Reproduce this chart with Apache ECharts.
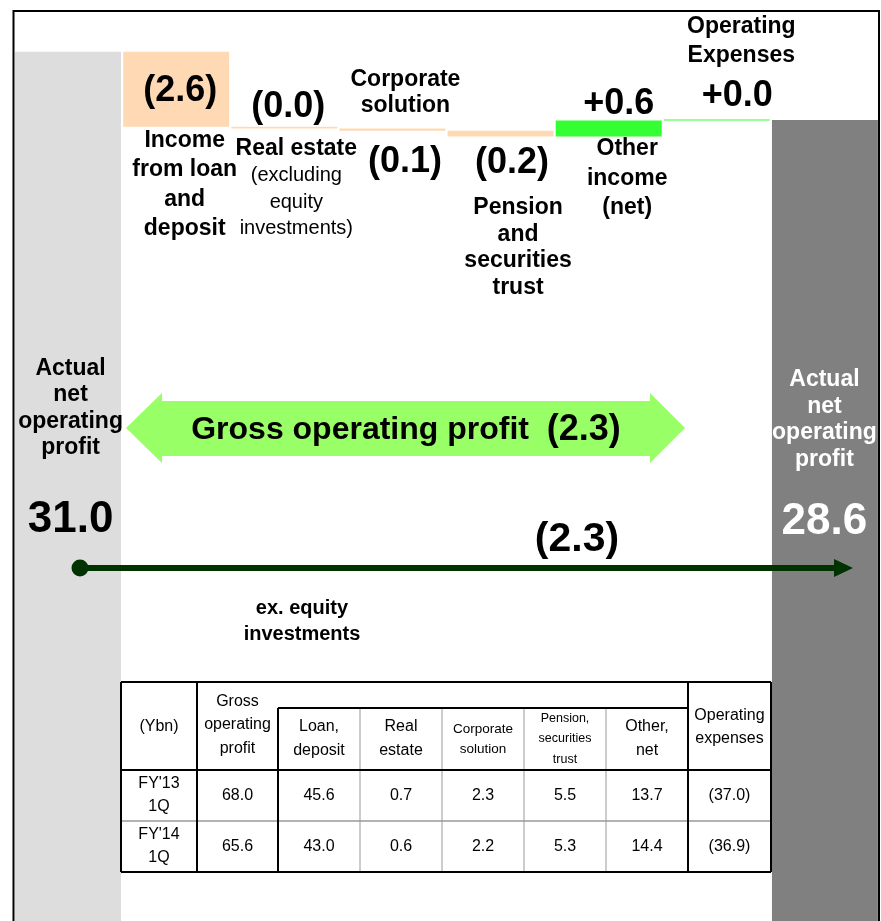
<!DOCTYPE html>
<html>
<head>
<meta charset="utf-8">
<script src="https://cdn.jsdelivr.net/npm/echarts@6/dist/echarts.min.js"></script>
<style>
	html, body { margin: 0; padding: 0; background: #fff; }
	#main { width: 881px; height: 921px; }
</style>
</head>
<body>
<div id="main"></div>
<script>
var categories = ["FY13 1Q", "Income from loan and deposit", "Real estate", "Corporate solution",
	"Pension and securities trust", "Other income (net)", "Operating Expenses", "FY14 1Q"];
var startValue = 31.0;
var endValue = 28.6;
var changes = [-2.64, -0.06, -0.08, -0.21, 0.57, 0.02];
var changeLabels = ["(2.6)", "(0.0)", "(0.1)", "(0.2)", "+0.6", "+0.0"];
var totalLabels = ["31.0", "28.6"];
var totalName = ["Actual", "net", "operating", "profit"];
var catLines = [
	["Income", "from loan", "and", "deposit"],
	["Real estate"],
	["Corporate", "solution"],
	["Pension", "and", "securities", "trust"],
	["Other", "income", "(net)"],
	["Operating", "Expenses"]
];
var realEstateNote = ["(excluding", "equity", "investments)"];
var grossText = "Gross operating profit";
var grossChange = "(2.3)";
var netChange = "(2.3)";
var netNote = ["ex. equity", "investments"];

var tableHead = ["(Ybn)", "Gross\noperating\nprofit", "Loan,\ndeposit", "Real\nestate", "Corporate\nsolution",
	"Pension,\nsecurities\ntrust", "Other,\nnet", "Operating\nexpenses"];
var tableRows = ["FY'13\n1Q", "FY'14\n1Q"];
var tableFY13 = ["68.0", "45.6", "0.7", "2.3", "5.5", "13.7", "(37.0)"];
var tableFY14 = ["65.6", "43.0", "0.6", "2.2", "5.3", "14.4", "(36.9)"];

var FONT = "'Liberation Sans', Arial, sans-serif";

(function() {
	var myChart = echarts.init(document.getElementById("main"));

	function lines(arr, key) {
		return arr.map(function(l) { return "{" + key + "|" + l + "}"; }).join("\n");
	}

	var rich = {
		v: { fontSize: 36, fontWeight: "bold", lineHeight: 40, fontFamily: FONT, color: "#000" },
		n: { fontSize: 23, fontWeight: "bold", lineHeight: 29.5, fontFamily: FONT, color: "#000" },
		n2: { fontSize: 23, fontWeight: "bold", lineHeight: 26.5, fontFamily: FONT, color: "#000" },
		n3: { fontSize: 23, fontWeight: "bold", lineHeight: 26, fontFamily: FONT, color: "#000" },
		n4: { fontSize: 23, fontWeight: "bold", lineHeight: 26.7, fontFamily: FONT, color: "#000" },
		n5: { fontSize: 23, fontWeight: "bold", lineHeight: 29, fontFamily: FONT, color: "#000" },
		s: { fontSize: 20, lineHeight: 26.5, fontFamily: FONT, color: "#000" },
		t: { fontSize: 23, fontWeight: "bold", lineHeight: 26.5, fontFamily: FONT, color: "#000" },
		tv: { fontSize: 44, fontWeight: "bold", lineHeight: 117, fontFamily: FONT, color: "#000" },
		tw: { fontSize: 23, fontWeight: "bold", lineHeight: 26.5, fontFamily: FONT, color: "#fff" },
		twv: { fontSize: 44, fontWeight: "bold", lineHeight: 97.5, fontFamily: FONT, color: "#fff" }
	};

	// waterfall levels
	var level = startValue;
	var baseData = ["-"], decData = ["-"], incData = ["-"];
	changes.forEach(function(c) {
		var next = level + c;
		baseData.push(Math.min(level, next));
		decData.push(c < 0 ? -c : "-");
		incData.push(c >= 0 ? c : "-");
		level = next;
	});
	baseData.push("-"); decData.push("-"); incData.push("-");
	var totalData = [startValue].concat(changes.map(function() { return "-"; })).concat([endValue]);

	// labels hung on the bars
	var baseLabels = {
		1: { position: "insideTop", distance: 0, offset: [8.5, -1], formatter: lines(catLines[0], "n") },
		2: { position: "insideTop", distance: 5, offset: [12, 2.5], formatter: lines(catLines[1], "n2") + "\n" + lines(realEstateNote, "s") },
		3: { position: "insideTop", distance: 6, offset: [12.5, 5], formatter: "{v|" + changeLabels[2] + "}" },
		4: { position: "insideTop", distance: 0, offset: [17.5, 57.8], formatter: lines(catLines[3], "n4") },
		5: { position: "insideTop", distance: 0, offset: [18.5, -2.5], formatter: lines(catLines[4], "n") },
		6: { position: "top", distance: 53, offset: [24.5, 3], formatter: lines(catLines[5], "n5") }
	};
	var changeLbl = {
		1: { position: "inside", offset: [4, 2], formatter: "{v|" + changeLabels[0] + "}" },
		2: { position: "top", distance: 3, offset: [4, 3], formatter: "{v|" + changeLabels[1] + "}" },
		3: { position: "top", distance: 12.5, offset: [13, 3], formatter: lines(catLines[2], "n3") },
		4: { position: "bottom", distance: 3.2, offset: [11.5, 3], formatter: "{v|" + changeLabels[3] + "}" },
		5: { position: "top", distance: 0, offset: [10, 4], formatter: "{v|" + changeLabels[4] + "}" },
		6: { position: "top", distance: 7, offset: [20.5, 4], formatter: "{v|" + changeLabels[5] + "}" }
	};

	function withLabels(arr, lbls) {
		return arr.map(function(v, i) {
			if (v === "-" || !lbls[i]) return v;
			var l = Object.assign({ show: true, rich: rich, align: "center" }, lbls[i]);
			return { value: v, label: l };
		});
	}

	var totalItems = totalData.map(function(v, i) {
		if (v === "-") return v;
		var left = i === 0;
		return {
			value: v,
			itemStyle: { color: left ? "#DDDDDD" : "#808080" },
			label: {
				show: true, rich: rich, align: "center", verticalAlign: "top",
				position: ["50%", left ? 303.25 : 246.75],
				offset: [left ? 2.5 : -0.5, 0],
				formatter: lines(totalName, left ? "t" : "tw") + "\n{" + (left ? "tv" : "twv") + "|" + totalLabels[left ? 0 : 1] + "}"
			}
		};
	});

	var g = [];
	function ln(x1, y1, x2, y2, w, c) {
		g.push({ type: "line", shape: { x1: x1, y1: y1, x2: x2, y2: y2 }, style: { stroke: c, lineWidth: w }, z: 10 });
	}
	function tx(text, x, y, size, lh, extra) {
		g.push({ type: "text", z: 11, style: Object.assign({
			text: text, x: x, y: y, align: "center", verticalAlign: "middle",
			fontSize: size, fontFamily: FONT, lineHeight: lh, fill: "#000"
		}, extra || {}) });
	}

	// outer frame (open at the bottom)
	ln(13, 11, 880, 11, 2, "#000");
	ln(13.5, 10, 13.5, 921, 2, "#000");
	ln(879, 10, 879, 921, 2, "#000");

	// table
	var cols = [121, 197, 278, 360, 442, 524, 606, 688, 771];
	var rowsY = [682, 708, 770, 821, 872];
	g.push({ type: "rect", shape: { x: cols[0], y: rowsY[0], width: cols[8] - cols[0], height: rowsY[4] - rowsY[0] },
		style: { fill: "#fff" }, z: 9 });
	for (var k = 3; k <= 6; k++) ln(cols[k], rowsY[1], cols[k], rowsY[4], 1, "#999");
	ln(cols[0], rowsY[3], cols[8], rowsY[3], 1.5, "#999");
	ln(cols[0], rowsY[0], cols[8], rowsY[0], 2, "#000");
	ln(cols[0], rowsY[4], cols[8], rowsY[4], 2, "#000");
	ln(cols[0], rowsY[0], cols[0], rowsY[4], 2, "#000");
	ln(cols[8], rowsY[0], cols[8], rowsY[4], 2, "#000");
	ln(cols[1], rowsY[0], cols[1], rowsY[4], 2, "#000");
	ln(cols[7], rowsY[0], cols[7], rowsY[4], 2, "#000");
	ln(cols[2], rowsY[1], cols[2], rowsY[4], 2, "#000");
	ln(cols[2], rowsY[1], cols[7], rowsY[1], 2, "#000");
	ln(cols[0], rowsY[2], cols[8], rowsY[2], 2, "#000");

	function cx(i) { return (cols[i] + cols[i + 1]) / 2; }
	tx(tableHead[0], cx(0), 727, 16, 23);
	tx(tableHead[1], cx(1), 725, 16, 23.5);
	tx(tableHead[2], cx(2), 739, 16, 24);
	tx(tableHead[3], cx(3), 739, 16, 24);
	tx(tableHead[4], cx(4), 739, 13.5, 20);
	tx(tableHead[5], cx(5), 739, 12.5, 20.5);
	tx(tableHead[6], cx(6), 739, 16, 24);
	tx(tableHead[7], cx(7), 727, 16, 23);
	[tableFY13, tableFY14].forEach(function(row, r) {
		var yc = (rowsY[2 + r] + rowsY[3 + r]) / 2;
		tx(tableRows[r], cx(0), yc, 16, 23);
		row.forEach(function(v, i) { tx(v, cx(i + 1), yc, 16, 20); });
	});

	// gross operating profit arrow
	g.push({ type: "polygon", z: 10, shape: { points: [[126, 428], [162, 393], [162, 401], [650, 401], [650, 393], [685, 428],
		[650, 463], [650, 456], [162, 456], [162, 463]] }, style: { fill: "#99FF66" } });
	g.push({ type: "text", z: 11, style: {
		text: "{a|" + grossText + "}{a|  }{b|" + grossChange + "}", x: 406, y: 430, align: "center", verticalAlign: "middle",
		rich: { a: { fontSize: 32, fontWeight: "bold", fontFamily: FONT, fill: "#000" },
			b: { fontSize: 36, fontWeight: "bold", fontFamily: FONT, fill: "#000" } }
	} });

	// net operating profit line
	ln(80, 568, 838, 568, 6, "#003300");
	g.push({ type: "circle", z: 11, shape: { cx: 80, cy: 568, r: 8.5 }, style: { fill: "#003300" } });
	g.push({ type: "polygon", z: 11, shape: { points: [[834, 559], [853, 568], [834, 577]] }, style: { fill: "#003300" } });
	tx(netChange, 577, 540, 41, 44, { fontWeight: "bold" });
	tx(netNote.join("\n"), 302, 621.5, 20, 26, { fontWeight: "bold" });

	var option = {
		animation: false,
		grid: { left: 14, right: 2, top: 19, bottom: 0, show: false },
		xAxis: { type: "category", data: categories, show: false },
		yAxis: { type: "value", min: 0.33, max: 32.16, show: false, splitLine: { show: false } },
		series: [
			{ name: "base", type: "bar", stack: "w", barCategoryGap: "2%", itemStyle: { color: "transparent" },
				data: withLabels(baseData, baseLabels), silent: true },
			{ name: "decrease", type: "bar", stack: "w", barMinHeight: 1, itemStyle: { color: "#FFD9B3" },
				data: withLabels(decData, changeLbl) },
			{ name: "increase", type: "bar", stack: "w", barMinHeight: 1, itemStyle: { color: "#33FF33" },
				data: withLabels(incData, changeLbl) },
			{ name: "total", type: "bar", stack: "w", data: totalItems }
		],
		graphic: g
	};

	myChart.setOption(option);

	window.addEventListener("resize", function() {
		myChart.resize();
	});
})();
</script>
</body>
</html>
